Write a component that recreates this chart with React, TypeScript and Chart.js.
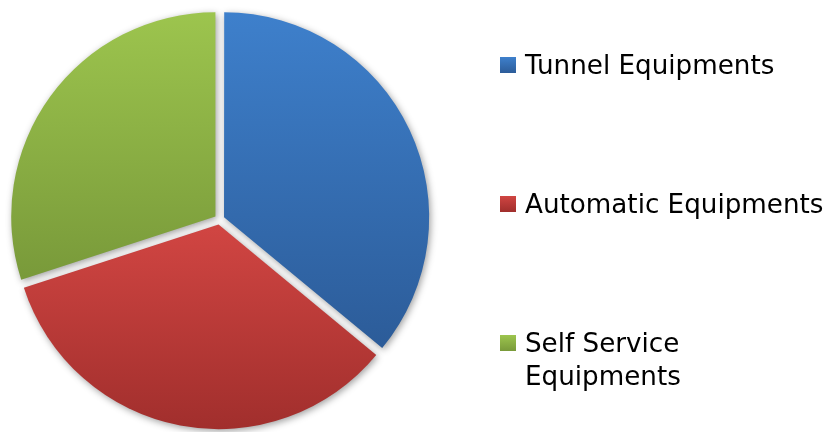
import React, { useEffect, useRef } from "react";
import { Chart, registerables } from "chart.js";

Chart.register(...registerables);

// ---- data ----
const categories: string[] = ["Tunnel Equipments", "Automatic Equipments", "Self Service Equipments"];
const shares: number[] = [36, 34, 30];
const topColors: string[] = ["#3e80cc", "#d04542", "#9dc54e"];
const bottomColors: string[] = ["#2c5c99", "#a02e2c", "#799a3a"];

// ---- layout constants ----
const SLICE_OFFSET = 20; // Chart.js translates arcs by offset / 4
const PIE_RADIUS = 204;
const LEGEND_X = 500;
const LEGEND_TOP = 65;
const LEGEND_STEP = 139;
const LEGEND_FONT = '26.2px "DejaVu Sans", Verdana, sans-serif';

function sliceGradient(context: any) {
  const chart = context.chart;
  const i = context.dataIndex;
  const area = chart.chartArea;
  if (!area || i === undefined) return topColors[i ?? 0];
  const cx = (area.left + area.right) / 2;
  const cy = (area.top + area.bottom) / 2;
  const r = PIE_RADIUS;
  const vals: number[] = chart.data.datasets[0].data as number[];
  const total = vals.reduce((a, b) => a + b, 0);
  let before = 0;
  for (let k = 0; k < i; k++) before += vals[k];
  const a0 = (before / total) * Math.PI * 2;
  const a1 = ((before + vals[i]) / total) * Math.PI * 2;
  const mid = (a0 + a1) / 2;
  const oy = -Math.cos(mid) * (SLICE_OFFSET / 4);
  const ys: number[] = [cy, cy - r * Math.cos(a0), cy - r * Math.cos(a1)];
  if (a0 <= 0 && a1 >= 0) ys.push(cy - r);
  if (a0 <= Math.PI && a1 >= Math.PI) ys.push(cy + r);
  const minY = Math.min(...ys) + oy;
  const maxY = Math.max(...ys) + oy;
  const g = chart.ctx.createLinearGradient(0, minY, 0, maxY);
  g.addColorStop(0, topColors[i]);
  g.addColorStop(1, bottomColors[i]);
  return g;
}

const shadowPlugin = {
  id: "sliceShadow",
  beforeDatasetsDraw(chart: any) {
    const ctx = chart.ctx;
    ctx.save();
    ctx.shadowColor = "rgba(0,0,0,0.38)";
    ctx.shadowBlur = 7;
    ctx.shadowOffsetX = 1.5;
    ctx.shadowOffsetY = 2;
  },
  afterDatasetsDraw(chart: any) {
    chart.ctx.restore();
  },
};

function wrapText(ctx: CanvasRenderingContext2D, text: string, maxWidth: number): string[] {
  const words = text.split(" ");
  const lines: string[] = [];
  let cur = "";
  for (const w of words) {
    const test = cur ? cur + " " + w : w;
    if (ctx.measureText(test).width > maxWidth && cur) {
      lines.push(cur);
      cur = w;
    } else {
      cur = test;
    }
  }
  if (cur) lines.push(cur);
  return lines;
}

const sideLegendPlugin = {
  id: "sideLegend",
  afterDraw(chart: any) {
    const ctx: CanvasRenderingContext2D = chart.ctx;
    const labels: string[] = chart.data.labels;
    ctx.save();
    ctx.font = LEGEND_FONT;
    ctx.textBaseline = "alphabetic";
    ctx.textAlign = "left";
    labels.forEach((label, i) => {
      const yc = LEGEND_TOP + i * LEGEND_STEP;
      const g = ctx.createLinearGradient(0, yc - 8, 0, yc + 8);
      g.addColorStop(0, topColors[i]);
      g.addColorStop(1, bottomColors[i]);
      ctx.fillStyle = g;
      ctx.fillRect(LEGEND_X, yc - 8, 16, 16);
      ctx.fillStyle = "#000000";
      const lines = wrapText(ctx, label, 302);
      lines.forEach((ln, j) => {
        ctx.fillText(ln, LEGEND_X + 25, yc + 9 + j * 33);
      });
    });
    ctx.restore();
  },
};

export default function App() {
  const canvasRef = useRef<HTMLCanvasElement | null>(null);

  useEffect(() => {
    document.body.style.margin = "0";
    const canvas = canvasRef.current;
    if (!canvas) return;
    const chart = new Chart(canvas, {
      type: "pie",
      data: {
        labels: categories,
        datasets: [
          {
            data: shares,
            backgroundColor: sliceGradient as any,
            borderWidth: 0,
            offset: SLICE_OFFSET,
            hoverOffset: 0,
          },
        ],
      },
      options: {
        responsive: true,
        maintainAspectRatio: false,
        animation: false,
        radius: PIE_RADIUS,
        layout: {
          padding: { left: 12, right: 400, top: 13.5, bottom: 6.5 },
        },
        plugins: {
          legend: { display: false },
          tooltip: { enabled: false },
        },
      } as any,
      plugins: [shadowPlugin, sideLegendPlugin],
    });
    return () => chart.destroy();
  }, []);

  return (
    <div style={{ position: "absolute", left: 0, top: 0, width: 827, height: 432, background: "#ffffff" }}>
      <canvas ref={canvasRef} />
    </div>
  );
}
